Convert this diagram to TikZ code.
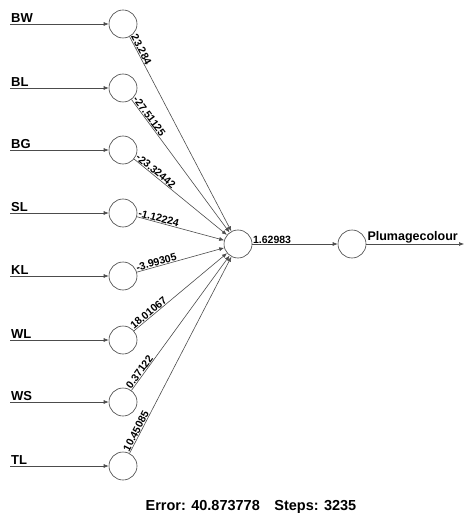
\documentclass[tikz,border=0pt]{standalone}
\usepackage{fontspec}
\setmainfont{Liberation Sans}
\usetikzlibrary{arrows.meta}
\begin{document}
\begin{tikzpicture}[x=1pt,y=-1pt,
    neuron/.style={circle,draw=black!75,line width=0.6pt,minimum size=28pt,inner sep=0pt},
    wire/.style={draw=black!70,line width=0.6pt,-{Latex[length=5pt,width=4pt]}},
    wlab/.style={font=\bfseries\fontsize{10.5}{12}\selectfont,inner sep=0.5pt},
    inlab/.style={anchor=south west,font=\bfseries\fontsize{13}{14}\selectfont,inner sep=1pt}]
    \useasboundingbox (0,0) rectangle (464,529);
    \node[neuron] (hid) at (238,244) {};
    \node[neuron] (out) at (352,244) {};
    \coordinate (out-end) at (464,244);
    % input layer
    \foreach \nm/\y/\w in {BW/24/23.284,BL/88/-27.51125,BG/150/-23.32442,SL/213/-1.12224,
        KL/276/-3.99305,WL/340/18.01067,WS/402/0.37122,TL/466/10.45085} {
        \coordinate (\nm-in) at (10,\y);
        \node[neuron] (\nm) at (123,\y) {};
        \draw[wire] (\nm-in) -- (\nm);
        \node[inlab] (\nm-lab) at (\nm-in) {\nm};
        \draw[wire] (\nm) -- node[wlab,sloped,anchor=south west,pos=0] (\nm-w) {\w} (hid);
    }
    % output
    \draw[wire] (hid) -- node[wlab,anchor=south west,pos=0] (hid-w) {1.62983} (out);
    \draw[wire] (out) -- (out-end);
    \node[inlab,font=\bfseries\fontsize{12.5}{14}\selectfont] (out-lab) at (out.east) {Plumagecolour};
    \node[font=\bfseries\fontsize{14.5}{16}\selectfont] (err) at (251,507) {Error: 40.873778\quad Steps: 3235};
\end{tikzpicture}
\end{document}
